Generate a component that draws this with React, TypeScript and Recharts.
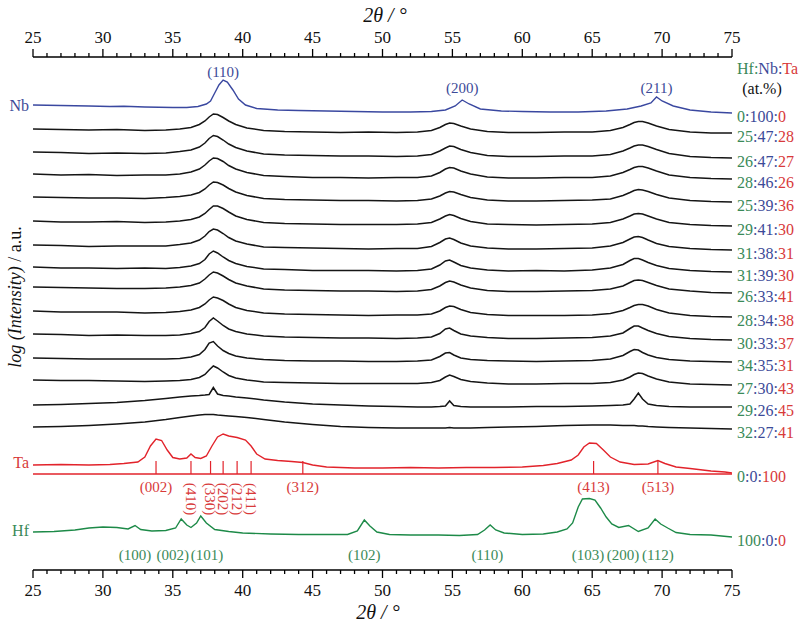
import { LineChart, Line, XAxis, YAxis, ReferenceLine, ReferenceDot } from 'recharts';

const FONT = '"Liberation Serif", "Times New Roman", serif';

const BLACK = '#151515';
const BLUE = '#3a48a0';
const RED = '#e2232b';
const GREEN = '#1d8a48';
const BLUE_T = '#3c4a98';
const RED_T = '#d83a3a';
const GREEN_T = '#3a8a58';

// 2θ ticks
const MAJOR_TICKS = [25, 30, 35, 40, 45, 50, 55, 60, 65, 70, 75];
const ALL_TICKS = [
    25, 26, 27, 28, 29, 30, 31, 32, 33, 34, 35, 36, 37, 38, 39, 40, 41, 42, 43, 44, 45, 46, 47, 48, 49, 50,
    51, 52, 53, 54, 55, 56, 57, 58, 59, 60, 61, 62, 63, 64, 65, 66, 67, 68, 69, 70, 71, 72, 73, 74, 75,
];

// compositions Hf:Nb:Ta, top to bottom (Nb, 14 alloys, Ta, Hf)
const COMP_HF = [0, 25, 26, 28, 25, 29, 31, 31, 26, 28, 30, 34, 27, 29, 32, 0, 100];
const COMP_NB = [100, 47, 47, 46, 39, 41, 38, 39, 33, 34, 33, 35, 30, 26, 27, 0, 0];
const COMP_TA = [0, 28, 27, 26, 36, 30, 31, 30, 41, 38, 37, 31, 43, 45, 41, 100, 0];

// Nb pattern (offset log intensity, a.u.)
const NB_THETA = [25, 27, 29, 30.5, 31.5, 33, 35, 36, 36.8, 37.4, 37.7, 38.0, 38.3, 38.6, 38.9, 39.3, 39.7, 40.2, 41, 42.5, 44, 46, 48, 50, 52, 53.5, 54.5, 55.2, 55.7, 56.2, 57, 58.5, 60, 62, 64, 66, 67.5, 68.5, 69.2, 69.6, 70, 70.8, 72, 73.5, 75];
const NB_VALUES = [465, 464.5, 464, 463.5, 463.8, 463, 462.5, 462.5, 463.5, 466, 469, 477, 485, 490, 488, 480, 471, 465, 461.5, 460, 459.5, 459, 458.5, 458, 458, 458.5, 460, 464, 470, 466, 461, 459, 458.5, 458, 458, 459, 461, 464, 467, 473, 469, 464, 460, 458, 457];

// alloy patterns: common 2θ grid, baseline offsets and profiles above baseline
const ALLOY_THETA = [25, 27, 29, 31, 33, 34.5, 35.5, 36.3, 36.9, 37.3, 37.6, 37.9, 38.2, 38.6, 39.0, 39.5, 40.3, 41.5, 43, 45, 47, 49, 51, 52.5, 53.5, 54.1, 54.5, 54.8, 55.1, 55.6, 56.3, 57.5, 59, 61, 63, 65, 66.3, 67.2, 67.7, 68.0, 68.3, 68.6, 69.0, 69.6, 70.5, 72, 73.5, 75];
const ALLOY_OFFSETS = [441, 418, 396, 373, 349, 325, 303, 283, 259, 236, 212, 190, 165, 143];
const ALLOY_1 = [0, -0.5, -1, -0.5, -1.5, -1, 0, 1.5, 4.5, 8, 12, 15, 14.5, 11.5, 8, 4.5, 1, -1.5, -2.5, -3, -3.5, -3, -3.5, -3, -1.5, 1.5, 4.5, 6, 5.5, 3, 0, -2.5, -3.5, -3.5, -3, -3, -1.5, 1.5, 4.5, 6.5, 7.5, 7.5, 6, 3, -0.5, -3, -4, -4];
const ALLOY_2 = [0, -0.5, -1.5, -1, -1.5, -1, 0.5, 2, 5, 9, 13.5, 16.5, 15.5, 12, 8, 4.5, 1, -2, -3, -3.5, -4, -4, -4.5, -4, -2.5, 1, 4, 6, 5.5, 2.5, -0.5, -3.5, -4.5, -4.5, -4, -4, -2.5, 1, 4, 6, 7, 7, 5.5, 2.5, -1.5, -4.5, -5.5, -6];
const ALLOY_3 = [0, -1, -0.5, -1.5, -1, -1, 0, 2, 5, 9, 13, 16, 15.5, 12.5, 8.5, 5, 1.5, -1.5, -2.5, -3.5, -3.5, -4, -3.5, -3.5, -2, 1.5, 5, 6.5, 6, 3, 0, -3, -4, -4, -3.5, -3.5, -2, 1.5, 4.5, 6.5, 7.5, 7.5, 6, 3, -1, -3.5, -4.5, -5];
const ALLOY_4 = [0, -0.5, -1, -1, -1.5, -0.5, 0.5, 2, 4.5, 8, 12, 15, 14.5, 12, 8.5, 5, 1.5, -1.5, -2.5, -3, -3.5, -3.5, -4, -3.5, -2, 1, 4, 5.5, 5, 2.5, -0.5, -3, -4, -4, -3.5, -3, -2, 1.5, 4.5, 6.5, 7.5, 7, 5.5, 2.5, -1, -3.5, -4.5, -5];
const ALLOY_5 = [0, -1, -1, -0.5, -1.5, -1, 0, 1.5, 4, 7.5, 11.5, 15, 15, 12.5, 9, 5, 1.5, -1.5, -2.5, -3, -3.5, -3.5, -3.5, -3, -1.5, 2, 5, 6.5, 5.5, 2.5, -0.5, -3, -3.5, -4, -3.5, -3, -1.5, 2, 5, 7, 7.5, 7, 5, 2, -1.5, -3.5, -4.5, -5];
const ALLOY_6 = [0, -0.5, -1.5, -1, -1, -1, 0.5, 2, 5, 9, 13.5, 16, 15, 11.5, 7.5, 4, 1, -2, -2.5, -3, -3.5, -4, -3.5, -3.5, -1.5, 2.5, 6, 7, 5.5, 2, -1, -3, -4, -4, -3.5, -3, -1, 2.5, 6, 8, 8.5, 7.5, 5, 1.5, -1.5, -3.5, -4.5, -5];
const ALLOY_7 = [0, -1, -1, -1.5, -1, -1.5, -0.5, 1, 3.5, 7.5, 13, 16, 14, 10, 6.5, 3.5, 0.5, -2, -2.5, -3.5, -3.5, -3.5, -4, -3.5, -2, 2, 6, 7, 5, 1.5, -1, -3, -4, -3.5, -4, -3, -1, 2.5, 6.5, 8.5, 8.5, 7, 4.5, 1.5, -1.5, -3.5, -4.5, -5];
const ALLOY_8 = [0, -0.5, -1, -1.5, -1.5, -1, 0, 1.5, 4, 8, 12, 15, 14, 11, 7.5, 4, 1, -2, -3, -3.5, -4, -4, -4.5, -4, -2.5, 1, 4.5, 6, 5, 2, -1, -3.5, -4.5, -4.5, -4, -3.5, -2, 1, 4.5, 6.5, 7, 6.5, 4.5, 1.5, -2, -4, -5.5, -6];
const ALLOY_9 = [0, -1, -1, -1, -2, -1.5, -0.5, 1, 3.5, 7, 11, 14, 13, 10.5, 7, 3.5, 0.5, -2, -3, -3.5, -4, -4.5, -4, -4, -3, 0, 3.5, 5, 4.5, 1.5, -1.5, -3.5, -4.5, -4.5, -4.5, -4, -2.5, 0.5, 3.5, 5.5, 6.5, 6.5, 5, 1.5, -2, -4.5, -5.5, -6];
const ALLOY_10 = [0, -0.5, -1.5, -1, -1.5, -1.5, -1, 0.5, 2.5, 6.5, 12.5, 16, 13, 8.5, 5, 2.5, 0, -2, -3, -3.5, -4, -4, -4.5, -4, -3, 0.5, 5, 6, 3.5, 0, -2, -3.5, -4.5, -4.5, -4, -3.5, -2, 1, 5.5, 8, 8, 6, 3.5, 0.5, -2.5, -4.5, -5.5, -6];
const ALLOY_11 = [0, -0.5, -1, -1, -1, -1, -0.5, 1, 3.5, 8.5, 15, 16.5, 12, 7.5, 4.5, 2, 0, -1.5, -2.5, -3, -3, -3.5, -3.5, -3, -2, 1.5, 5, 5.5, 3, 0, -1.5, -2.5, -3, -3.5, -3, -2.5, -1, 2.5, 6.5, 8.5, 8, 5.5, 3, 0.5, -1.5, -3, -3.5, -4];
const ALLOY_12 = [0, -0.5, -0.5, -1, -1.5, -1, -0.5, 0.5, 2.5, 5.5, 10, 14, 12, 8, 4.5, 2, 0, -2, -2.5, -3, -3.5, -3.5, -3.5, -3.5, -2.5, -0.5, 3, 5, 3.5, 0.5, -1.5, -3, -4, -4, -3.5, -3.5, -2.5, 0, 3, 5.5, 7, 6.5, 4, 1, -2, -4, -4.5, -5];
const ALLOY_13 = [0, 0.5, 1.5, 2.5, 4.5, 6.5, 8, 9, 9.5, 10, 10.5, 17.5, 11, 9.5, 9, 8, 7, 5, 3, 1, 0, -1, -1.5, -2, -2, -1.5, -1, 4, -0.5, -1.5, -2, -2, -2, -1.5, -1.5, -1, -0.5, 0, 1, 6, 12, 6, 1, -0.5, -1.5, -2, -2, -2];
const ALLOY_14 = [0, 0.5, 1.5, 3, 5, 7.5, 9.5, 11, 12, 12.5, 12.5, 12.5, 12, 11.5, 11, 10.5, 9.5, 7.5, 5, 2.5, 0.5, -0.5, -1, -1, -1, -1, -1, -0.5, -1, -1, -1, -0.5, 0, 0.5, 1.5, 2, 2, 1.5, 1.5, 1.5, 1, 1, 0.5, 0, -0.5, -1, -1.5, -2];
const ALLOYS = [ALLOY_1, ALLOY_2, ALLOY_3, ALLOY_4, ALLOY_5, ALLOY_6, ALLOY_7, ALLOY_8, ALLOY_9, ALLOY_10, ALLOY_11, ALLOY_12, ALLOY_13, ALLOY_14];

// Ta pattern
const TA_THETA = [25, 27, 29, 30.5, 31.5, 32.5, 33.0, 33.4, 33.8, 34.2, 34.6, 35.0, 35.5, 36.0, 36.3, 36.6, 37.0, 37.4, 37.8, 38.2, 38.6, 39.0, 39.6, 40.2, 40.6, 41.0, 41.6, 42.5, 43.5, 44.3, 45, 46, 48, 50, 52, 54, 56, 58, 60, 61.5, 62.5, 63.5, 64.0, 64.4, 64.8, 65.3, 65.8, 66.3, 67.0, 68.0, 69.0, 69.7, 70.2, 71, 72, 73.5, 74.5, 75];
const TA_VALUES = [105, 105.5, 105, 105.5, 106.5, 108, 113, 124, 131, 129.5, 120, 112.5, 111, 112, 116, 112.5, 111.5, 114, 124, 133, 136, 134, 132.5, 130, 124, 116, 111, 109.5, 108.5, 107.5, 105, 103, 102, 102, 102.5, 102, 102.5, 102.5, 103, 104.5, 106.5, 110, 115, 123, 127, 126.5, 120, 113, 108, 105.5, 106, 109.5, 106.5, 103, 101.5, 99, 98, 97];
// Ta reference (PDF) lines
const TA_REF_THETA = [33.8, 36.3, 37.7, 38.6, 39.6, 40.6, 44.3, 65.1, 69.7];
const TA_REF_BASE = 96;
const TA_REF_TOP = 109;

// Hf pattern
const HF_THETA = [25, 26.5, 28, 29, 30, 31, 31.8, 32.3, 32.7, 33.5, 34.5, 35.2, 35.6, 36.0, 36.3, 36.7, 37.0, 37.4, 38.0, 39, 40, 42, 44, 46, 47.5, 48.2, 48.7, 49.1, 49.6, 50.5, 52, 54, 55.5, 56.8, 57.3, 57.7, 58.1, 58.7, 60, 61.5, 62.5, 63.2, 63.6, 64.0, 64.3, 64.8, 65.2, 65.6, 66.0, 66.4, 66.9, 67.6, 68.3, 69.0, 69.5, 69.9, 70.4, 71, 72, 73.5, 75];
const HF_VALUES = [38, 38.5, 40, 42, 43, 42.5, 41, 44.5, 40.5, 39, 39.5, 42, 51, 45, 42.5, 47, 54, 47, 40.5, 38.5, 37, 36, 35.5, 35.5, 35.5, 39, 50, 44, 38, 35.5, 35, 35, 34.5, 35.5, 40, 45, 40, 37, 35.5, 36, 38, 41, 47, 63, 71, 71.5, 70, 62, 53, 46, 42.5, 44.5, 38.5, 42, 51, 46, 42, 37.5, 35.5, 35, 33];

// peak indices
const NB_HKL = ['(110)', '(200)', '(211)'];
const NB_HKL_THETA = [38.6, 55.7, 69.6];
const TA_HKL = ['(002)', '(312)', '(413)', '(513)'];
const TA_HKL_THETA = [33.8, 44.3, 65.1, 69.7];
const TA_HKL_V = ['(410)', '(330)', '(202)', '(212)', '(411)'];
const TA_HKL_V_THETA = [36.3, 37.7, 38.6, 39.6, 40.6];
const HF_HKL = ['(100)', '(002)', '(101)', '(102)', '(110)', '(103)', '(200)', '(112)'];
const HF_HKL_THETA = [32.3, 35.0, 37.45, 48.7, 57.5, 64.7, 67.2, 69.7];

// label heights (layout, in plot units)
const NB_HKL_Y = [498, 482, 482];
const TA_HKL_Y = 83;
const TA_HKL_V_Y = 71;
const HF_HKL_Y = 15;

const toPoints = (xs: number[], ys: number[]) => xs.map((x, i) => ({ x, y: ys[i] }));

const nbData = toPoints(NB_THETA, NB_VALUES);
const taData = toPoints(TA_THETA, TA_VALUES);
const hfData = toPoints(HF_THETA, HF_VALUES);
const alloyData = ALLOYS.map((row, r) => ALLOY_THETA.map((x, i) => ({ x, y: ALLOY_OFFSETS[r] + row[i] })));

// right-hand end value of each curve, for the composition labels
const curveEnds = [
    NB_VALUES[NB_VALUES.length - 1],
    ...alloyData.map(d => d[d.length - 1].y),
    TA_VALUES[TA_VALUES.length - 1],
    HF_VALUES[HF_VALUES.length - 1],
];

const AxisTick = ({ x, y, payload, side }: any) => {
    const major = MAJOR_TICKS.includes(payload.value);
    const dir = side === 'top' ? -1 : 1;
    return (
        <g>
            <line x1={x} x2={x} y1={y} y2={y + dir * (major ? 8 : 4)} stroke="#000" strokeWidth={1.3} />
            {major && (
                <text x={x} y={y + dir * 20} textAnchor="middle" dominantBaseline="central" fontFamily={FONT} fontSize={17} fill="#111">
                    {payload.value}
                </text>
            )}
        </g>
    );
};

const compLabel = (i: number) => (props: any) => {
    const { x, y } = props.viewBox;
    return (
        <text x={x + 5} y={y + 3} dominantBaseline="central" fontFamily={FONT} fontSize={16}>
            <tspan fill={GREEN_T}>{COMP_HF[i]}</tspan>
            <tspan fill={BLUE_T}>:{COMP_NB[i]}:</tspan>
            <tspan fill={RED_T}>{COMP_TA[i]}</tspan>
        </text>
    );
};

const textLabel = (value: string, fill: string, extra: any = {}) => ({
    value, fill, fontSize: 15, fontFamily: FONT, position: 'center' as const, ...extra,
});

export default function App() {
    const axisIds = { xAxisId: 'bot', yAxisId: 'y' };
    return (
        <div style={{ position: 'absolute', left: 0, top: 0, width: 800, height: 623, background: '#fff' }}>
            <LineChart width={800} height={623} margin={{ top: 17, right: 68, bottom: 13, left: 33 }}>
                <XAxis xAxisId="bot" orientation="bottom" type="number" dataKey="x" domain={[25, 75]} allowDataOverflow
                    ticks={ALL_TICKS} interval={0} height={40} tickSize={0} tickMargin={0} tickLine={false}
                    axisLine={{ stroke: '#000', strokeWidth: 1.5 }} tick={<AxisTick side="bottom" />} />
                <XAxis xAxisId="top" orientation="top" type="number" dataKey="x" domain={[25, 75]} allowDataOverflow
                    ticks={ALL_TICKS} interval={0} height={40} tickSize={0} tickMargin={0} tickLine={false}
                    axisLine={{ stroke: '#000', strokeWidth: 1.5 }} tick={<AxisTick side="top" />} />
                <YAxis yAxisId="y" type="number" domain={[0, 513]} allowDataOverflow width={0} tick={false} tickLine={false}
                    axisLine={{ stroke: '#000', strokeWidth: 1.8 }} />
                <YAxis yAxisId="yr" orientation="right" type="number" domain={[0, 513]} allowDataOverflow width={0} tick={false} tickLine={false}
                    axisLine={{ stroke: '#000', strokeWidth: 1.8 }} />

                <ReferenceLine {...axisIds} y={TA_REF_BASE} stroke={RED} strokeWidth={1.3} />
                {TA_REF_THETA.map((t, i) => (
                    <ReferenceLine key={`ref-${i}`} {...axisIds} segment={[{ x: t, y: TA_REF_BASE }, { x: t, y: TA_REF_TOP }]} stroke={RED} strokeWidth={1.2} />
                ))}

                <Line {...axisIds} data={nbData} dataKey="y" type="linear" stroke={BLUE} strokeWidth={1.4} dot={false} isAnimationActive={false} />
                {alloyData.map((d, r) => (
                    <Line key={`alloy-${r}`} {...axisIds} data={d} dataKey="y" type="linear" stroke={BLACK} strokeWidth={1.5} dot={false} isAnimationActive={false} />
                ))}
                <Line {...axisIds} data={taData} dataKey="y" type="linear" stroke={RED} strokeWidth={1.4} dot={false} isAnimationActive={false} />
                <Line {...axisIds} data={hfData} dataKey="y" type="linear" stroke={GREEN} strokeWidth={1.4} dot={false} isAnimationActive={false} />

                {/* element names on the left */}
                <ReferenceDot {...axisIds} x={25} y={NB_VALUES[0]} r={0} stroke="none" label={{ value: 'Nb', position: 'left', offset: 4, fill: BLUE_T, fontSize: 16, fontFamily: FONT }} />
                <ReferenceDot {...axisIds} x={25} y={TA_VALUES[0] + 3} r={0} stroke="none" label={{ value: 'Ta', position: 'left', offset: 4, fill: RED_T, fontSize: 16, fontFamily: FONT }} />
                <ReferenceDot {...axisIds} x={25} y={HF_VALUES[0] + 2} r={0} stroke="none" label={{ value: 'Hf', position: 'left', offset: 4, fill: GREEN_T, fontSize: 16, fontFamily: FONT }} />

                {/* compositions on the right */}
                {curveEnds.map((v, i) => (
                    <ReferenceDot key={`comp-${i}`} {...axisIds} x={75} y={v} r={0} stroke="none" label={compLabel(i)} />
                ))}

                {/* Miller indices */}
                {NB_HKL.map((h, i) => (
                    <ReferenceDot key={`nb-${i}`} {...axisIds} x={NB_HKL_THETA[i]} y={NB_HKL_Y[i]} r={0} stroke="none" label={textLabel(h, BLUE_T)} />
                ))}
                {TA_HKL.map((h, i) => (
                    <ReferenceDot key={`ta-${i}`} {...axisIds} x={TA_HKL_THETA[i]} y={TA_HKL_Y} r={0} stroke="none" label={textLabel(h, RED_T)} />
                ))}
                {TA_HKL_V.map((h, i) => (
                    <ReferenceDot key={`tav-${i}`} {...axisIds} x={TA_HKL_V_THETA[i]} y={TA_HKL_V_Y} r={0} stroke="none" label={textLabel(h, RED_T, { angle: 90 })} />
                ))}
                {HF_HKL.map((h, i) => (
                    <ReferenceDot key={`hf-${i}`} {...axisIds} x={HF_HKL_THETA[i]} y={HF_HKL_Y} r={0} stroke="none" label={textLabel(h, GREEN_T)} />
                ))}
            </LineChart>

            <svg width={800} height={623} style={{ position: 'absolute', left: 0, top: 0, pointerEvents: 'none' }}>
                <text x={385} y={15} textAnchor="middle" dominantBaseline="central" fontFamily={FONT} fontSize={20} fontStyle="italic" fill="#111">2θ / °</text>
                <text x={378} y={612} textAnchor="middle" dominantBaseline="central" fontFamily={FONT} fontSize={20} fontStyle="italic" fill="#111">2θ / °</text>
                <text x={15} y={297} transform="rotate(-90 15 297)" textAnchor="middle" dominantBaseline="central" fontFamily={FONT} fontSize={18} fill="#111">
                    <tspan fontStyle="italic">log (Intensity)</tspan> / a.u.
                </text>
                <text x={737} y={68} dominantBaseline="central" fontFamily={FONT} fontSize={16}>
                    <tspan fill={GREEN_T}>Hf:</tspan><tspan fill={BLUE_T}>Nb:</tspan><tspan fill={RED_T}>Ta</tspan>
                </text>
                <text x={762} y={88} textAnchor="middle" dominantBaseline="central" fontFamily={FONT} fontSize={16} fill="#111">(at.%)</text>
            </svg>
        </div>
    );
}
